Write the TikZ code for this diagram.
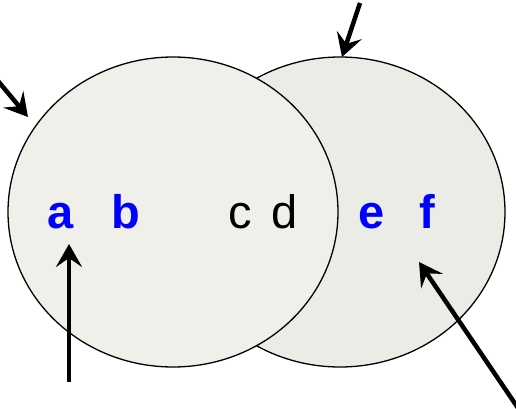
\documentclass[tikz,border=0pt]{standalone}
\usepackage{fontspec}
\setmainfont{Liberation Sans}
\usetikzlibrary{arrows.meta,shapes.geometric}
\definecolor{leftfill}{HTML}{F1EFE9}
\definecolor{rightfill}{HTML}{ECECE6}
\begin{document}
\begin{tikzpicture}[x=1pt,y=-1pt,
  setcircle/.style={ellipse, draw=black, line width=1.3pt, minimum width=330pt, minimum height=310pt, inner sep=0pt},
  blueletter/.style={text=blue, font=\fontsize{47}{47}\selectfont\bfseries, anchor=base, inner sep=0pt},
  blackletter/.style={text=black, font=\fontsize{47}{47}\selectfont, anchor=base, inner sep=0pt},
  pointer/.style={line width=4.5pt, -{Stealth[length=23pt,width=26pt,inset=9pt]}}]
\useasboundingbox (0,0) rectangle (516,409);
\node[setcircle, fill=rightfill] (right) at (340,212) {};
\node[setcircle, fill=leftfill] (left) at (173,212) {};
\node[blueletter] (la) at (61,228) {a};
\node[blueletter] (lb) at (126,228) {b};
\node[blackletter] (lc) at (240,228) {c};
\node[blackletter] (ld) at (285,228) {d};
\node[blueletter] (le) at (372,228) {e};
\node[blueletter] (lf) at (427,228) {f};
\coordinate (s1) at (-2,81);
\coordinate (t1) at (28,117);
\coordinate (s2) at (360,3);
\coordinate (t2) at (342,57);
\coordinate (s3) at (69,382);
\coordinate (t3) at (69,244);
\coordinate (s4) at (518,408);
\coordinate (t4) at (419,262);
\draw[pointer] (s1) -- (t1);
\draw[pointer] (s2) -- (t2);
\draw[pointer] (s3) -- (t3);
\draw[pointer] (s4) -- (t4);
\end{tikzpicture}
\end{document}
